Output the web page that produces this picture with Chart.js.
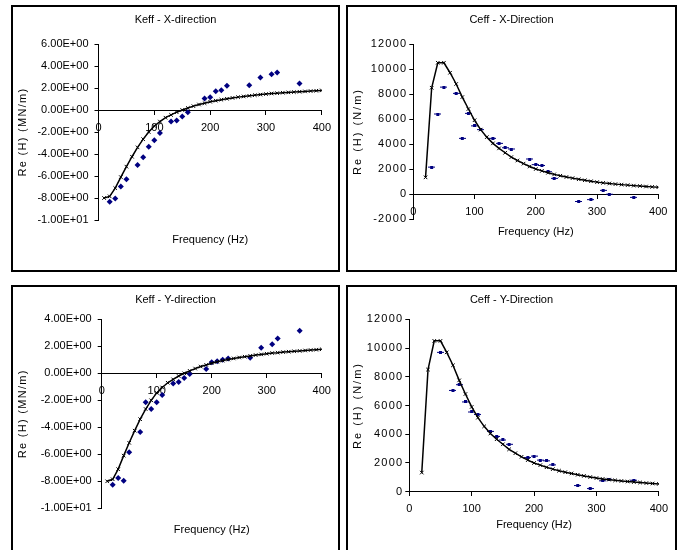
<!DOCTYPE html>
<html>
<head>
<meta charset="utf-8">
<script src="https://cdn.jsdelivr.net/npm/chart.js@4.4.1/dist/chart.umd.min.js"></script>
<style>
  body { margin: 0; background: #fff; overflow: hidden; }
  .panel { position: absolute; border: 2px solid #000; background: #fff; overflow: hidden; }
  .panel canvas { display: block; }
</style>
</head>
<body>
<div class="panel" style="left:11px;top:5px;width:325px;height:263px"><canvas id="keff-x" width="325" height="263"></canvas></div>
<div class="panel" style="left:346px;top:5px;width:327px;height:263px"><canvas id="ceff-x" width="327" height="263"></canvas></div>
<div class="panel" style="left:11px;top:285px;width:325px;height:271px"><canvas id="keff-y" width="325" height="271"></canvas></div>
<div class="panel" style="left:346px;top:285px;width:327px;height:271px"><canvas id="ceff-y" width="327" height="271"></canvas></div>
<script>
// model curves (Hz)
const keffModelFreq = [10, 20, 30, 40, 50, 60, 70, 80, 90, 100, 110, 120, 130, 140, 150, 160, 170, 180, 190, 200,
    210, 220, 230, 240, 250, 260, 270, 280, 290, 300, 310, 320, 330, 340, 350, 360, 370, 380, 390, 400];
const keffModel = [-8.0, -7.85, -7.1, -6.1, -5.15, -4.25, -3.4, -2.65, -2.0, -1.45, -1.05, -0.7, -0.45, -0.2, 0.0, 0.18, 0.35, 0.5, 0.62, 0.75,
    0.85, 0.94, 1.02, 1.1, 1.17, 1.23, 1.29, 1.35, 1.4, 1.45, 1.5, 1.53, 1.57, 1.6, 1.63, 1.66, 1.69, 1.72, 1.75, 1.78];

const ceffModelFreq = [20, 30, 40, 50, 60, 70, 80, 90, 100, 110, 120, 130, 140, 150, 160, 170, 180, 190, 200,
    210, 220, 230, 240, 250, 260, 270, 280, 290, 300, 310, 320, 330, 340, 350, 360, 370, 380, 390, 400];
const ceffModel = [1330, 8500, 10500, 10500, 9700, 8800, 7750, 6800, 5900, 5150, 4550, 4050, 3650, 3300, 2950, 2680, 2430, 2200, 2000,
    1850, 1700, 1570, 1460, 1360, 1270, 1180, 1100, 1020, 950, 890, 840, 790, 750, 710, 670, 640, 600, 570, 540];

// measured points
const keffFreq = [20, 30, 40, 50, 70, 80, 90, 100, 110, 130, 140, 150, 160, 190, 200, 210, 220, 230, 270, 290, 310, 320, 360];
const keffX = [-8.35, -8.05, -6.95, -6.3, -5.0, -4.3, -3.35, -2.75, -2.1, -1.05, -0.95, -0.6, -0.2, 1.05, 1.15, 1.7, 1.8, 2.2, 2.25, 2.95, 3.25, 3.4, 2.4];
const keffY = [-8.25, -7.75, -7.95, -5.85, -4.35, -2.15, -2.65, -2.15, -1.6, -0.75, -0.65, -0.35, -0.05, 0.32, 0.82, 0.9, 1.0, 1.1, 1.15, 1.9, 2.15, 2.58, 3.15];

const ceffXFreq = [30, 40, 50, 70, 80, 90, 100, 110, 130, 140, 150, 160, 190, 200, 210, 220, 230, 270, 290, 310, 320, 360];
const ceffX = [2150, 6400, 8550, 8050, 4450, 6450, 5450, 5150, 4450, 4050, 3700, 3600, 2800, 2350, 2280, 1780, 1250, -600, -450, 290, -20, -270];

const ceffYFreq = [50, 70, 80, 90, 100, 110, 130, 140, 150, 160, 190, 200, 210, 220, 230, 270, 290, 310, 320, 360];
const ceffY = [9700, 7050, 7450, 6250, 5550, 5380, 4200, 3850, 3600, 3300, 2380, 2480, 2200, 2150, 1870, 430, 220, 760, 870, 800];

const FONT = '"Liberation Sans", Arial, sans-serif';
const NAVY = '#000080';

// linear scale that can letter-space its title / tick labels (the excel text is spread out)
class SpacedScale extends Chart.LinearScale {
    drawTitle() {
        this.ctx.save();
        this.ctx.letterSpacing = (this.options.titleSpacing || 0) + 'px';
        super.drawTitle();
        this.ctx.restore();
    }
    drawLabels(chartArea) {
        this.ctx.save();
        this.ctx.letterSpacing = (this.options.labelSpacing || 0) + 'px';
        super.drawLabels(chartArea);
        this.ctx.restore();
    }
}
SpacedScale.id = 'spacedLinear';
SpacedScale.defaults = Chart.LinearScale.defaults;
Chart.register(SpacedScale);

// 6.00E+00 style labels
function sciLabel(v) {
    const parts = Number(v).toExponential(2).split('e');
    const sign = parts[1][0] === '-' ? '-' : '+';
    return parts[0] + 'E' + sign + parts[1].replace(/[+-]/, '').padStart(2, '0');
}

// excel-ish "+" marker, flat
function dashMarker() {
    const c = document.createElement('canvas');
    c.width = 7;
    c.height = 3;
    const g = c.getContext('2d');
    g.fillStyle = NAVY;
    g.fillRect(0, 1, 7, 1);
    g.fillRect(2, 0, 3, 3);
    return c;
}

function pairs(xs, ys) {
    return xs.map((x, i) => ({ x: x, y: ys[i] }));
}

function makeChart(id, o) {
    return new Chart(document.getElementById(id), {
        type: 'scatter',
        data: {
            datasets: [{
                label: 'model',
                data: pairs(o.modelFreq, o.model),
                xAxisID: 'x',
                yAxisID: 'y',
                showLine: true,
                borderColor: '#000',
                borderWidth: 1.5,
                pointStyle: 'crossRot',
                pointRadius: 2.5,
                pointBorderWidth: 1,
                pointBorderColor: '#000',
                pointBackgroundColor: '#000'
            }, {
                label: 'measured',
                data: pairs(o.freq, o.values),
                xAxisID: 'x',
                yAxisID: 'y',
                showLine: false,
                pointStyle: o.marker,
                pointRadius: 3,
                pointBorderWidth: 0,
                backgroundColor: NAVY,
                borderColor: NAVY
            }]
        },
        options: {
            responsive: false,
            animation: false,
            layout: { padding: 0 },
            plugins: {
                legend: { display: false },
                tooltip: { enabled: false },
                title: {
                    display: true,
                    text: o.title,
                    color: '#000',
                    font: { family: FONT, size: 11, weight: 'normal' },
                    padding: { top: o.titlePad[0], bottom: o.titlePad[1] }
                }
            },
            scales: {
                x: {
                    type: 'linear',
                    min: 0,
                    max: 400,
                    position: { y: 0 },
                    ticks: { stepSize: 100, color: '#000', padding: 7, maxRotation: 0, font: { family: FONT, size: 11 } },
                    grid: { display: true, drawOnChartArea: false, drawTicks: true, tickLength: 4, color: '#000' },
                    border: { display: true, color: '#000', width: 1 },
                    afterFit: s => { s.height = 0; }
                },
                y: {
                    type: 'spacedLinear',
                    position: 'left',
                    min: o.yMin,
                    max: o.yMax,
                    titleSpacing: o.yTitleSpacing,
                    labelSpacing: o.yLabelSpacing,
                    ticks: { stepSize: o.yStep, color: '#000', padding: o.yTickPad, callback: o.yFormat, font: { family: FONT, size: 11 } },
                    grid: { display: true, drawOnChartArea: false, drawTicks: true, tickLength: 4, color: '#000' },
                    border: { display: true, color: '#000', width: 1 },
                    title: { display: true, text: o.yTitle, color: '#000', font: { family: FONT, size: 11 }, padding: { top: 3.7, bottom: 0 } },
                    afterFit: s => { s.width = o.areaLeft; }
                },
                xt: {
                    type: 'linear',
                    position: 'bottom',
                    ticks: { display: false },
                    grid: { display: false, drawTicks: false },
                    border: { display: false },
                    title: { display: true, text: 'Frequency (Hz)', color: '#000', font: { family: FONT, size: 11 }, padding: { top: 0, bottom: o.xTitlePad } },
                    afterFit: s => { s.height = o.bottomH; }
                },
                yr: {
                    type: 'linear',
                    position: 'right',
                    ticks: { display: false },
                    grid: { display: false, drawTicks: false },
                    border: { display: false },
                    afterFit: s => { s.width = o.rightW; }
                }
            }
        }
    });
}

const keffXChart = makeChart('keff-x', {
    title: 'Keff - X-direction', yTitle: 'Re (H) (MN/m)',
    modelFreq: keffModelFreq, model: keffModel, freq: keffFreq, values: keffX, marker: 'rectRot',
    yMin: -10, yMax: 6, yStep: 2, yFormat: sciLabel, yTickPad: 6, yTitleSpacing: 1.3, yLabelSpacing: 0,
    areaLeft: 85.5, rightW: 16, bottomH: 50, titlePad: [6.4, 17.4], xTitlePad: 23.4
});

const ceffXChart = makeChart('ceff-x', {
    title: 'Ceff - X-Direction', yTitle: 'Re (H) (N/m)',
    modelFreq: ceffModelFreq, model: ceffModel, freq: ceffXFreq, values: ceffX, marker: dashMarker(),
    yMin: -2000, yMax: 12000, yStep: 2000, yFormat: v => String(v), yTickPad: 2, yTitleSpacing: 2, yLabelSpacing: 1.2,
    areaLeft: 65.3, rightW: 16.7, bottomH: 51, titlePad: [6.4, 17.4], xTitlePad: 31.1
});

const keffYChart = makeChart('keff-y', {
    title: 'Keff - Y-direction', yTitle: 'Re (H) (MN/m)',
    modelFreq: keffModelFreq, model: keffModel, freq: keffFreq, values: keffY, marker: 'rectRot',
    yMin: -10, yMax: 4, yStep: 2, yFormat: sciLabel, yTickPad: 6, yTitleSpacing: 1.3, yLabelSpacing: 0,
    areaLeft: 88.7, rightW: 16.3, bottomH: 49.7, titlePad: [6.4, 12.7], xTitlePad: 21.4
});

const ceffYChart = makeChart('ceff-y', {
    title: 'Ceff - Y-Direction', yTitle: 'Re (H) (N/m)',
    modelFreq: ceffModelFreq, model: ceffModel, freq: ceffYFreq, values: ceffY, marker: dashMarker(),
    yMin: 0, yMax: 12000, yStep: 2000, yFormat: v => String(v), yTickPad: 2, yTitleSpacing: 2, yLabelSpacing: 1.2,
    areaLeft: 61.3, rightW: 15, bottomH: 66.3, titlePad: [6.4, 12.7], xTitlePad: 26.4
});
</script>
</body>
</html>
